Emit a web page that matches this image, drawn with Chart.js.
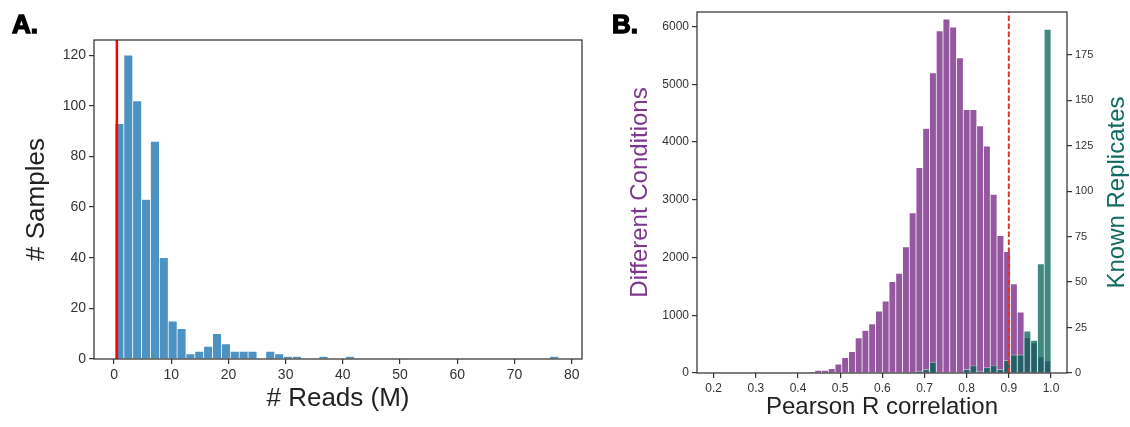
<!DOCTYPE html>
<html>
<head>
<meta charset="utf-8">
<script src="https://cdn.jsdelivr.net/npm/chart.js@4"></script>
<style>
  body { margin: 0; background: #fff; }
  #wrap { position: relative; width: 1130px; height: 427px; overflow: hidden; }
  .panel { position: absolute; top: 0; height: 427px; }
  #left { left: 0; width: 600px; }
  #right { left: 600px; width: 530px; }
  .tag { position: absolute; font: bold 26px "Liberation Sans", Arial, sans-serif; -webkit-text-stroke: 1.4px #000; color: #000; line-height: 1; }
</style>
</head>
<body>
<div id="wrap">
  <div class="panel" id="left"><canvas id="reads"></canvas></div>
  <div class="panel" id="right"><canvas id="corr"></canvas></div>
  <div class="tag" style="left:12px;top:11px">A.</div>
  <div class="tag" style="left:612px;top:11px">B.</div>
</div>
<script>
// panel A: reads per sample (millions), 50 bins
const readsBinStart = 0.17;
const readsBinWidth = 1.551;
const readsCounts = [93, 120, 102, 63, 86, 40, 15, 12, 2, 3,
                     5, 10, 6, 3, 3, 3, 0, 3, 2, 1,
                     1, 0, 0, 1, 0, 0, 1, 0, 0, 0,
                     0, 0, 0, 0, 0, 0, 0, 0, 0, 0,
                     0, 0, 0, 0, 0, 0, 0, 0, 0, 1];
const readsCutoff = 0.5;
const readsTicks = [0, 10, 20, 30, 40, 50, 60, 70, 80];
const sampleTicks = [0, 20, 40, 60, 80, 100, 120];

// panel B: Pearson R, 50 bins from 0.2 to 1.0
const corrBinStart = 0.2;
const corrBinWidth = 0.016;
const diffCounts = [0, 0, 0, 0, 0, 0, 0, 0, 0, 0,
                    0, 0, 0, 0, 15, 45, 45, 75, 155, 267,
                    368, 610, 736, 851, 1072, 1245, 1581, 1726, 2183, 2774,
                    3556, 4233, 5194, 5923, 6127, 5987, 5454, 4558, 4558, 4280,
                    3926, 3092, 2380, 2102, 1541, 1054, 608, 521, 278, 208];
const repCounts = [0, 0, 0, 0, 0, 0, 0, 0, 0, 0,
                   0, 0, 0, 0, 0, 0, 0, 0, 0, 0,
                   0, 0, 0, 0, 0, 0, 0, 0, 0, 0,
                   1, 2, 6, 0, 0, 0, 0, 2, 4, 1,
                   3, 4, 2, 7, 10, 10, 23, 18, 60, 189];
const corrCutoff = 0.9;
const corrTicks = [0.2, 0.3, 0.4, 0.5, 0.6, 0.7, 0.8, 0.9, 1.0];
const diffTicks = [0, 1000, 2000, 3000, 4000, 5000, 6000];
const repTicks = [0, 25, 50, 75, 100, 125, 150, 175];

Chart.defaults.font.family = '"Liberation Sans", Arial, sans-serif';
Chart.defaults.color = '#333';
Chart.defaults.animation = false;

const toBins = (counts, start, width) =>
  counts.map((c, i) => ({ x: start + (i + 0.5) * width, y: c }));

const fixedTicks = values => s => { s.ticks = values.map(v => ({ value: v })); };

const frame = {
  id: 'frame',
  afterDatasetsDraw(chart) {
    const { ctx, chartArea: a } = chart;
    ctx.save();
    ctx.strokeStyle = '#333';
    ctx.lineWidth = 1.25;
    ctx.strokeRect(a.left, a.top, a.right - a.left, a.bottom - a.top);
    ctx.restore();
  }
};

const tickGrid = { display: true, drawOnChartArea: false, drawTicks: true, tickLength: 5, color: '#333', lineWidth: 1.2, offset: false };

new Chart(document.getElementById('reads'), {
  data: {
    datasets: [
      {
        type: 'line',
        data: [{ x: readsCutoff, y: 0 }, { x: readsCutoff, y: 126 }],
        borderColor: '#ff0000',
        borderWidth: 2.5,
        pointRadius: 0,
        order: 0
      },
      {
        type: 'bar',
        data: toBins(readsCounts, readsBinStart, readsBinWidth),
        backgroundColor: '#4c92c3',
        borderColor: 'rgba(255,255,255,0.85)',
        borderWidth: 0.7,
        barPercentage: 1,
        categoryPercentage: 1,
        order: 1
      }
    ]
  },
  options: {
    responsive: true,
    maintainAspectRatio: false,
    layout: { padding: { top: 40, right: 18, bottom: 0, left: 0 } },
    plugins: { legend: { display: false }, tooltip: { enabled: false } },
    scales: {
      x: {
        type: 'linear', min: -3.5, max: 81.8, offset: false,
        afterFit: s => { s.height = 68; },
        afterBuildTicks: fixedTicks(readsTicks),
        ticks: { maxRotation: 0, padding: 3, font: { size: 14 } },
        grid: tickGrid,
        border: { display: false },
        title: { display: true, text: '# Reads (M)', color: '#222', font: { size: 26 }, padding: { top: 0, bottom: 13 } }
      },
      y: {
        min: 0, max: 126,
        afterFit: s => { s.width = 94; },
        afterBuildTicks: fixedTicks(sampleTicks),
        ticks: { padding: 3, font: { size: 14 } },
        grid: tickGrid,
        border: { display: false },
        title: { display: true, text: '# Samples', color: '#222', font: { size: 26 }, padding: { top: 21, bottom: 0 } }
      }
    }
  },
  plugins: [frame]
});

const rightTitle = {
  id: 'rightTitle',
  afterDraw(chart) {
    const s = chart.scales.y2;
    const ctx = chart.ctx;
    ctx.save();
    ctx.translate(s.right - 13, (s.top + s.bottom) / 2);
    ctx.rotate(-Math.PI / 2);
    ctx.textAlign = 'center';
    ctx.textBaseline = 'middle';
    ctx.fillStyle = '#0f6b63';
    ctx.font = '24px "Liberation Sans", Arial, sans-serif';
    ctx.fillText('Known Replicates', 0, 0);
    ctx.restore();
  }
};

new Chart(document.getElementById('corr'), {
  data: {
    datasets: [
      {
        type: 'line',
        data: [{ x: corrCutoff, y: 0 }, { x: corrCutoff, y: 6250 }],
        yAxisID: 'y',
        borderColor: '#e0332b',
        borderWidth: 2,
        borderDash: [5.5, 2.5],
        pointRadius: 0,
        order: 0
      },
      {
        type: 'bar',
        data: toBins(repCounts, corrBinStart, corrBinWidth),
        yAxisID: 'y2',
        grouped: false,
        backgroundColor: 'rgba(0,97,87,0.75)',
        borderColor: 'rgba(255,255,255,0.6)',
        borderWidth: 0.7,
        barPercentage: 1,
        categoryPercentage: 1,
        order: 1
      },
      {
        type: 'bar',
        data: toBins(diffCounts, corrBinStart, corrBinWidth),
        yAxisID: 'y',
        grouped: false,
        backgroundColor: '#9558a0',
        borderColor: 'rgba(255,255,255,0.75)',
        borderWidth: 0.7,
        barPercentage: 1,
        categoryPercentage: 1,
        order: 2
      }
    ]
  },
  options: {
    responsive: true,
    maintainAspectRatio: false,
    layout: { padding: { top: 12, right: 0, bottom: 0, left: 0 } },
    plugins: { legend: { display: false }, tooltip: { enabled: false } },
    scales: {
      x: {
        type: 'linear', min: 0.1605, max: 1.038, offset: false,
        afterFit: s => { s.height = 54; },
        afterBuildTicks: fixedTicks(corrTicks),
        ticks: { maxRotation: 0, padding: 3, font: { size: 12 }, callback: v => v.toFixed(1) },
        grid: tickGrid,
        border: { display: false },
        title: { display: true, text: 'Pearson R correlation', color: '#222', font: { size: 24 }, padding: { top: 0, bottom: 5 } }
      },
      y: {
        position: 'left',
        min: 0, max: 6250,
        afterFit: s => { s.width = 97; },
        afterBuildTicks: fixedTicks(diffTicks),
        ticks: { padding: 3, font: { size: 12 }, callback: v => String(v) },
        grid: tickGrid,
        border: { display: false },
        title: { display: true, text: 'Different Conditions', color: '#7e3790', font: { size: 24 }, padding: { top: 26, bottom: 0 } }
      },
      y2: {
        position: 'right',
        min: 0, max: 198.5,
        afterFit: s => { s.width = 63; },
        afterBuildTicks: fixedTicks(repTicks),
        ticks: { padding: 3, font: { size: 11 } },
        grid: tickGrid,
        border: { display: false }
      }
    }
  },
  plugins: [frame, rightTitle]
});
</script>
</body>
</html>
